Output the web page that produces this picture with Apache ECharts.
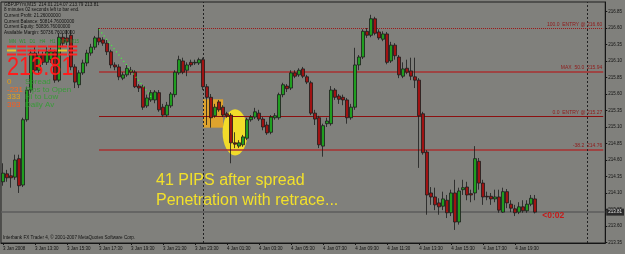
<!DOCTYPE html>
<html><head><meta charset="utf-8">
<script src="https://cdn.jsdelivr.net/npm/echarts@6/dist/echarts.min.js"></script>
<style>html,body{margin:0;padding:0;background:#80807c;}#c{width:625px;height:254px;}</style>
</head><body><div id="c"></div>
<script>
// ---- data (GBPJPYm, M15, 3 Jan 2008 11:30 -> 4 Jan 2008 20:45) ----
const opens=[214.27,214.39,214.36,214.34,214.62,214.22,215.21,215.66,216.22,215.96,
216.19,216.08,216.12,216.24,215.81,216.46,216.45,216.49,216.01,215.74,
215.92,216.07,216.22,216.31,216.45,216.42,216.37,216.24,216.04,216.01,
215.84,215.89,215.96,215.93,215.72,215.71,215.42,215.51,215.51,215.62,
215.40,215.28,215.42,215.59,215.92,216.10,215.96,216.08,216.07,216.07,
216.12,215.71,215.55,215.27,215.48,215.40,215.30,215.28,214.86,214.81,
214.83,214.93,215.21,215.25,215.31,215.22,215.13,215.02,215.24,215.24,
215.59,215.72,215.69,215.92,215.89,215.98,215.86,215.77,215.31,215.24,
214.81,215.15,215.15,215.66,215.57,215.55,215.51,215.24,215.40,216.04,
216.16,216.55,216.49,216.74,216.54,216.43,216.51,216.10,216.34,216.16,
215.87,215.99,215.95,215.86,215.81,215.30,214.72,214.10,214.04,213.95,
213.90,213.99,213.80,214.10,213.66,214.15,214.19,214.09,214.10,214.58,
214.25,214.05,214.05,214.01,214.04,213.81,214.12,213.93,213.86,213.81,
213.89,213.83,213.93,214.01];
const closes=[214.40,214.33,214.33,214.60,214.21,215.21,215.66,216.22,215.96,216.19,
216.08,216.24,216.24,215.81,216.46,216.37,216.39,216.01,215.78,215.92,
216.07,216.22,216.31,216.45,216.39,216.37,216.24,216.04,216.01,215.86,
215.89,215.99,215.93,215.71,215.69,215.40,215.54,215.62,215.63,215.36,
215.28,215.43,215.60,215.93,216.12,215.93,216.04,216.04,216.08,216.12,
215.71,215.55,215.24,215.40,215.36,215.28,215.27,214.86,214.84,214.86,
214.95,215.21,215.25,215.33,215.22,215.10,215.01,215.25,215.27,215.59,
215.74,215.68,215.92,215.87,215.96,215.87,215.78,215.31,215.22,214.83,
215.12,215.19,215.66,215.55,215.52,215.51,215.24,215.40,216.04,216.16,
216.55,216.49,216.74,216.52,216.45,216.51,216.08,216.34,216.18,215.89,
215.98,215.93,215.87,215.81,215.27,214.71,214.07,214.04,213.92,213.89,
214.01,213.80,214.10,213.66,214.13,214.18,214.07,214.07,214.62,214.25,
214.04,214.04,214.01,214.04,213.84,214.12,213.95,213.87,213.80,213.89,
213.83,213.93,214.02,213.81];
const lows=[214.21,214.27,214.18,214.30,214.10,214.19,215.18,215.62,215.92,215.89,
216.04,216.04,216.07,215.77,215.78,216.33,216.34,215.96,215.69,215.69,
215.89,216.02,216.18,216.27,216.34,216.33,216.19,215.99,215.96,215.81,
215.81,215.86,215.89,215.69,215.63,215.36,215.39,215.48,215.46,215.33,
215.25,215.25,215.39,215.55,215.89,215.90,215.87,216.01,216.04,216.04,
215.66,215.13,215.09,215.24,215.33,215.25,215.24,214.55,214.78,214.78,
214.80,214.90,215.18,215.22,215.19,215.05,214.98,214.99,215.21,215.21,
215.55,215.63,215.66,215.84,215.86,215.84,215.75,215.28,215.13,214.78,
214.65,215.10,215.12,215.51,215.45,215.43,215.15,215.21,215.36,215.96,
216.13,216.45,216.46,216.49,216.42,216.40,216.05,216.07,216.12,215.84,
215.84,215.90,215.81,215.69,214.48,214.68,213.77,213.92,213.84,213.77,
213.84,213.72,213.75,213.54,213.62,214.07,213.99,213.96,213.99,214.15,
213.92,213.99,213.92,213.96,213.80,213.80,213.87,213.81,213.75,213.78,
213.80,213.80,213.90,213.79];
const highs=[214.55,214.45,214.48,214.68,214.68,215.24,215.71,216.27,216.31,216.27,
216.24,216.31,216.30,216.27,216.52,216.52,216.57,216.57,216.05,215.96,
216.12,216.27,216.36,216.48,216.60,216.46,216.42,216.27,216.08,216.05,
215.93,216.04,216.01,215.96,215.75,215.74,215.59,215.66,215.66,215.66,
215.45,215.48,215.63,215.96,216.18,216.15,216.08,216.12,216.12,216.15,
216.15,215.75,215.60,215.45,215.51,215.43,215.33,215.31,215.02,214.90,
214.98,215.24,215.28,215.39,215.36,215.25,215.18,215.28,215.31,215.62,
215.77,215.75,215.96,215.96,215.99,216.01,215.89,215.80,215.36,215.27,
215.15,215.24,215.72,215.69,215.60,215.59,215.54,215.45,216.30,216.19,
216.58,216.60,216.80,216.77,216.58,216.55,216.54,216.39,216.37,216.19,
216.08,216.12,216.15,216.15,215.84,215.33,214.75,214.19,214.18,214.02,
214.12,214.07,214.15,214.30,214.18,214.30,214.27,214.15,214.81,214.63,
214.30,214.12,214.10,214.15,214.15,214.18,214.16,213.99,213.92,213.96,
213.99,213.99,214.07,214.07];
const tickLabels=['3 Jan 2008','3 Jan 13:30','3 Jan 15:30','3 Jan 17:30','3 Jan 19:30','3 Jan 21:30','3 Jan 23:30',
'4 Jan 01:30','4 Jan 03:30','4 Jan 05:30','4 Jan 07:30','4 Jan 09:30','4 Jan 11:30','4 Jan 13:30','4 Jan 15:30','4 Jan 17:30','4 Jan 19:30'];
const priceTicks=[213.35,213.60,213.85,214.10,214.35,214.60,214.85,215.10,215.35,215.60,215.85,216.10,216.35,216.60,216.85];
const levels=[216.60,215.94,215.27,214.76];
const levelLabels=['100.0  ENTRY @ 216.60','MAX  50.0  215.94','0.0  ENTRY @ 215.27','-38.2  214.76'];
const levelStartBar=24;
const bidPrice=213.81;
const trendLine=[[24,216.58],[37,215.56]];
const boxArea=[[50,215.52],[55,215.09]];
const ellipseCenter=[57.7,215.02];
const separatorBars=[50,146];
const infoLines=['GBPJPYm,M15  214.01 214.07 213.79 213.81','8 minutes 02 seconds left to bar end.','Current Profit: 21.26000000',
'Current Balance: 50814.76000000','Current Equity: 50836.76000000','Available Margin: 50736.76000000'];
const statNums=['0','-231','333','393'];
const statNames=['Spread','Pips to Open','Hi to Low','Daily Av'];
const tfNames=['MN','W1','D1','H4','H1','M30','M15'];

// categories: 15-minute bars
const N=151, categories=[];
for(let i=0;i<N;i++){const t=11*60+30+i*15;const d=3+Math.floor(t/1440);const m=t%1440;
categories.push(d+' Jan '+String(Math.floor(m/60)).padStart(2,'0')+':'+String(m%60).padStart(2,'0'));}
const candles=opens.map((o,i)=>[o,closes[i],lows[i],highs[i]]);

const FF='Liberation Sans, Arial, sans-serif';
const chart=echarts.init(document.getElementById('c'),null,{renderer:'canvas'});
const lvlStyles=[{color:'#9c1717',width:1,type:'dotted'},{color:'#a83030',width:1.5,type:'solid'},{color:'#8c1010',width:1.2,type:'solid'},{color:'#a83030',width:1.5,type:'solid'}];
const markLines=[];
levels.forEach((lv,i)=>{markLines.push([{coord:[levelStartBar,lv],lineStyle:lvlStyles[i],
  label:{show:true,position:'insideEndTop',formatter:levelLabels[i],fontSize:5,color:'#8f1a1a',distance:1,fontFamily:FF}},{coord:[N-1,lv]}]);});
markLines.push({yAxis:bidPrice,lineStyle:{color:'#5c5c5c',width:1.5,type:'solid'},
  label:{show:true,position:'end',formatter:bidPrice.toFixed(2),fontSize:4.5,color:'#e0e0e0',backgroundColor:'#2a2a2a',padding:[1,2],distance:1,fontFamily:FF}});
separatorBars.forEach(b=>markLines.push({xAxis:b,lineStyle:{color:'#222',width:1,type:[2,2]},label:{show:false}}));

const tickInt=(i)=>i%8===0&&i<=128;
chart.setOption({
  animation:false,
  backgroundColor:'#80807c',
  grid:{left:0,right:19,top:2,bottom:11,show:true,borderColor:'#1e1e1e',borderWidth:1},
  xAxis:{type:'category',data:categories,boundaryGap:true,
    axisLine:{show:true,lineStyle:{color:'#151515',width:1}},
    axisTick:{show:true,interval:tickInt,length:2,alignWithLabel:true,lineStyle:{color:'#151515'}},
    axisLabel:{interval:tickInt,formatter:(v,i)=>tickLabels[i/8]||'',align:'left',fontSize:4.5,color:'#111',margin:3,fontFamily:FF},
    splitLine:{show:false}},
  yAxis:{type:'value',position:'right',min:213.342,max:216.994,
    axisLine:{show:true,lineStyle:{color:'#151515'}},
    axisTick:{show:true,customValues:priceTicks,length:2,lineStyle:{color:'#151515'}},
    axisLabel:{customValues:priceTicks,formatter:v=>v.toFixed(2),fontSize:4.5,color:'#111',margin:3,fontFamily:FF},
    splitLine:{show:false}},
  series:[
    {type:'candlestick',data:candles,barWidth:3,z:5,
     itemStyle:{color:'#1f9e1f',color0:'#a01212',borderColor:'#1c1c1c',borderColor0:'#1c1c1c',borderWidth:0.8},
     markArea:{silent:true,itemStyle:{color:'#e3a42a',opacity:0.95},
       data:[[{coord:boxArea[0]},{coord:boxArea[1]}]]},
     markLine:{silent:true,symbol:['none','none'],animation:false,data:markLines}},
    {type:'line',data:trendLine,symbol:'none',z:6,lineStyle:{type:[1,3],color:'#3cff3c',width:1.3}}
  ]
});

const g=[];
const c=chart.convertToPixel({gridIndex:0},ellipseCenter);
g.push({type:'circle',x:c[0],y:c[1],scaleY:1.85,shape:{cx:0,cy:0,r:12.5},style:{fill:'#f2dc2a'},z:1,zlevel:0});
const bp=chart.convertToPixel({gridIndex:0},[135,bidPrice]);
g.push({type:'text',x:bp[0]-1,y:bp[1]+4,style:{text:'<0:02',fill:'#c41a1a',font:'bold 8.5px '+FF,textVerticalAlign:'middle'},z:20});
infoLines.forEach((t,i)=>g.push({type:'text',x:4,y:2+i*5.6,style:{text:t,fill:'#111',font:'4.6px '+FF,textVerticalAlign:'top'},z:20}));
tfNames.forEach((t,i)=>g.push({type:'text',x:9+i*10.2,y:39,style:{text:t,fill:'#2f8f2f',font:'4.5px '+FF,textVerticalAlign:'top'},z:20}));
for(let k=0;k<7;k++){for(let r=0;r<3;r++){const yel=(r===1&&(k===0||k===5));
  g.push({type:'rect',shape:{x:7+k*10.2,y:45.5+r*4,width:9,height:2},style:{fill:yel?'#e6c02a':'#ff2222'},z:20});}}
g.push({type:'text',x:7,y:68,scaleX:0.87,style:{text:'213.81',fill:'#ff1c1c',font:'25px '+FF,textVerticalAlign:'middle'},z:20});
const numCols=['#e39a12','#ff6a1a','#e8a317','#ff5a1a'];
statNums.forEach((t,i)=>{g.push({type:'text',x:7,y:82+i*7.5,style:{text:t,fill:numCols[i],font:'8px '+FF,textVerticalAlign:'middle'},z:20});
  g.push({type:'text',x:25,y:82+i*7.5,style:{text:statNames[i],fill:'#3a9a3a',font:'8px '+FF,textVerticalAlign:'middle'},z:20});});
g.push({type:'text',x:156,y:181,style:{text:'41 PIPS after spread',fill:'#f2e02a',font:'16px '+FF,textVerticalAlign:'middle'},z:20});
g.push({type:'text',x:156,y:201,style:{text:'Penetration with retrace...',fill:'#f2e02a',font:'16px '+FF,textVerticalAlign:'middle'},z:20});
g.push({type:'text',x:3,y:238,style:{text:'Interbank FX Trader 4, \u00a9 2001-2007 MetaQuotes Software Corp.',fill:'#111',font:'4.6px '+FF,textVerticalAlign:'middle'},z:20});
chart.setOption({graphic:g});
</script></body></html>
